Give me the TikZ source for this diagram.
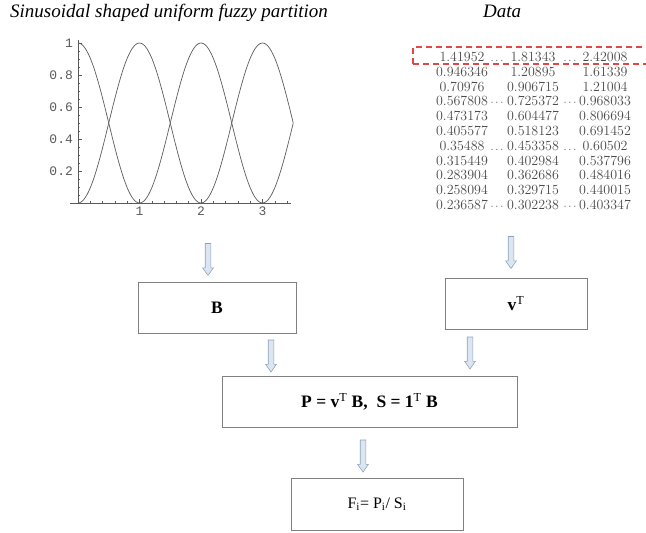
\documentclass[tikz,border=0pt]{standalone}
\usepackage{fontspec}
\newfontfamily\timesfont{Liberation Serif}
\newfontfamily\couriefont{Liberation Mono}
\usetikzlibrary{shapes.arrows}
\definecolor{arrowfill}{HTML}{DCE6F2}
\definecolor{arrowline}{HTML}{8FA3B8}
\definecolor{boxline}{HTML}{808080}
\definecolor{datared}{HTML}{E04848}
\definecolor{datagray}{HTML}{4A4A4A}
\definecolor{plotgray}{HTML}{5A5A5A}
\begin{document}
\begin{tikzpicture}
[x=1pt,y=-1pt,
  boxdecorate/.style={shape=rectangle,draw=boxline,fill=white,inner sep=0pt,
    minimum height=51pt,font=\timesfont\fontsize{17.5}{19}\selectfont},
  arrowdecorate/.style={single arrow,draw=arrowline,fill=arrowfill,
    line width=0.6pt,inner sep=2.5pt,minimum height=32pt,
    single arrow head extend=2.5pt,single arrow tip angle=70,
    shape border rotate=270},
  titledecorate/.style={anchor=base west,inner sep=0pt,
    font=\timesfont\itshape\fontsize{19}{21}\selectfont},
  celldecorate/.style={anchor=base,inner sep=0pt,text=datagray,font=\fontsize{14}{16}\selectfont},
  dotdecorate/.style={celldecorate,font=\fontsize{11}{11}\selectfont},
  ticklabel/.style={inner sep=0pt,text=plotgray,font=\couriefont\fontsize{13}{13}\selectfont},
  curvedecorate/.style={plotgray,line width=0.7pt},
  axisdecorate/.style={plotgray,line width=0.8pt}]
\useasboundingbox (0,0) rectangle (646,533);
\clip (0,0) rectangle (646,533);
%% titles
\node[titledecorate] (plottitle) at (10,17) {Sinusoidal shaped uniform fuzzy partition};
\node[titledecorate] (datatitle) at (483,17) {Data};
%% fuzzy partition plot
\begin{scope}[shift={(78,203)},x=61.5pt,y=160pt]
  \draw[axisdecorate] (-0.13,0) -- (3.47,0);
  \draw[axisdecorate] (0,0) -- (0,1.02);
  \foreach \t in {0.2,0.4,0.6,0.8,1.2,1.4,1.6,1.8,2.2,2.4,2.6,2.8,3.2,3.4}
    \draw[plotgray,line width=0.5pt] (\t,0) -- (\t,0.012);
  \foreach \t in {1,2,3} {
    \draw[plotgray,line width=0.6pt] (\t,0) -- (\t,0.025);
    \node[ticklabel,anchor=north] (xl\t) at (\t,-0.025) {\t};
  }
  \foreach \t in {0.05,0.1,0.15,0.25,0.3,0.35,0.45,0.5,0.55,0.65,0.7,0.75,0.85,0.9,0.95}
    \draw[plotgray,line width=0.5pt] (0,\t) -- (0.035,\t);
  \foreach \t/\lab in {0.2/0.2,0.4/0.4,0.6/0.6,0.8/0.8,1/1} {
    \draw[plotgray,line width=0.6pt] (0,\t) -- (0.07,\t);
    \node[ticklabel,anchor=east] (yl\lab) at (-0.08,\t) {\lab};
  }
  \draw[curvedecorate] plot[domain=0:3.5,samples=141,smooth] (\x,{pow(cos(90*\x),2)});
  \draw[curvedecorate] plot[domain=0:3.5,samples=141,smooth] (\x,{pow(sin(90*\x),2)});
\end{scope}
%% data table
\foreach \row/\a/\b/\c in {1/1.41952/1.81343/2.42008, 2/0.946346/1.20895/1.61339,
  3/0.70976/0.906715/1.21004, 4/0.567808/0.725372/0.968033,
  5/0.473173/0.604477/0.806694, 6/0.405577/0.518123/0.691452,
  7/0.35488/0.453358/0.60502, 8/0.315449/0.402984/0.537796,
  9/0.283904/0.362686/0.484016, 10/0.258094/0.329715/0.440015,
  11/0.236587/0.302238/0.403347} {
  \node[celldecorate] (c\row a) at (462,{61.5+14.8*(\row-1)}) {\a};
  \node[celldecorate] (c\row b) at (533,{61.5+14.8*(\row-1)}) {\b};
  \node[celldecorate] (c\row c) at (605,{61.5+14.8*(\row-1)}) {\c};
}
\foreach \row/\dotsym in {1/\ldots, 4/\cdots, 7/\ldots, 11/\cdots} {
  \node[dotdecorate] (d\row a) at (497,{61.5+14.8*(\row-1)}) {$\dotsym$};
  \node[dotdecorate] (d\row b) at (570,{61.5+14.8*(\row-1)}) {$\dotsym$};
}
\draw[datared,line width=1.1pt,dash pattern=on 6pt off 4pt] (413,64) -- (413,47) -- (660,47);
\draw[datared,line width=1.1pt,dash pattern=on 6pt off 4pt] (413,64) -- (660,64);
%% boxes
\node[boxdecorate,minimum width=158pt] (basis) at (217,307.5) {\textbf{B}};
\node[boxdecorate,minimum width=142pt] (vt) at (516,303.5) {\textbf{v}\textsuperscript{T}};
\node[boxdecorate,minimum width=295pt] (prod) at (369.5,401.5)
  {\textbf{P = v}\textsuperscript{T}\textbf{ B,\ \ S = 1}\textsuperscript{T}\textbf{ B}};
\node[boxdecorate,minimum width=172pt,minimum height=52pt,
  font=\timesfont\fontsize{16}{18}\selectfont] (frac) at (377,504)
  {F\textsubscript{i}= P\textsubscript{i}/ S\textsubscript{i}};
%% block arrows
\foreach \nodename/\x/\y in {a1s/208/242, a1e/208/273, a2s/511/234, a2e/511/267,
  a3s/271/338, a3e/271/370, a4s/470/335, a4e/470/367, a5s/363/438, a5e/363/470} {
  \coordinate (\nodename) at (\x,\y);
}
\path
\foreach \startnode/\endnode in {a1s/a1e, a2s/a2e, a3s/a3e, a4s/a4e, a5s/a5e} {
  (\startnode) -- node[arrowdecorate] {} (\endnode)
};
\end{tikzpicture}
\end{document}
